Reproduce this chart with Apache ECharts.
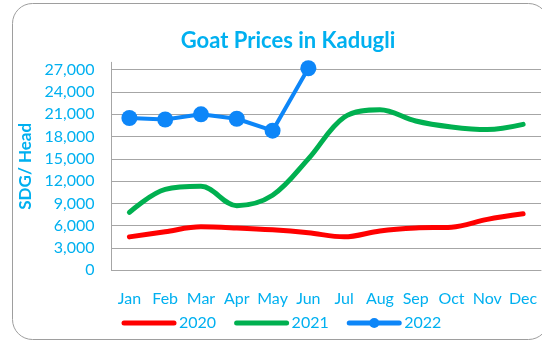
<!DOCTYPE html>
<html>
<head>
<meta charset="utf-8">
<script src="https://cdn.jsdelivr.net/npm/echarts@6/dist/echarts.min.js"></script>
<style>
  html, body { margin: 0; padding: 0; background: #ffffff; }
  #chart { width: 542px; height: 342px; }
</style>
</head>
<body>
<div id="chart"></div>
<script>
// Monthly goat prices (SDG per head) in Kadugli
const months = ['Jan', 'Feb', 'Mar', 'Apr', 'May', 'Jun', 'Jul', 'Aug', 'Sep', 'Oct', 'Nov', 'Dec'];
const prices2020 = [4500, 5200, 5850, 5700, 5450, 5050, 4500, 5300, 5700, 5800, 6850, 7600];
const prices2021 = [7800, 10900, 11300, 8700, 10100, 15000, 20600, 21600, 20100, 19300, 18950, 19650];
const prices2022 = [20500, 20300, 21000, 20400, 18800, 27200];
const yTicks = { min: 0, max: 28000, step: 3000 };

const textBlue = '#00B0F0';
const fontFamily = 'Lato, "Open Sans", sans-serif';
const gridGray = '#A6A6A6';

const chart = echarts.init(document.getElementById('chart'), null, { renderer: 'canvas' });

chart.setOption({
  animation: false,
  backgroundColor: '#ffffff',
  graphic: [{
    type: 'rect',
    z: -10,
    shape: { x: 12.5, y: 3.5, width: 536, height: 336, r: 20 },
    style: { fill: '#ffffff', stroke: '#9E9E9E', lineWidth: 1 }
  }],
  title: {
    text: 'Goat Prices in Kadugli',
    left: 283,
    textAlign: 'center',
    top: 25,
    textStyle: { color: textBlue, fontFamily, fontWeight: 'bold', fontSize: 22 }
  },
  grid: { left: 111.5, right: 1, top: 62.3, bottom: 71.7, containLabel: false },
  legend: {
    top: 310,
    left: 116.5,
    itemWidth: 50,
    itemHeight: 12.5,
    itemGap: 18,
    textStyle: { color: textBlue, fontFamily, fontSize: 16 },
    lineStyle: { width: 5, cap: 'round' },
    data: [
      { name: '2020', itemStyle: { opacity: 0 } },
      { name: '2021', itemStyle: { opacity: 0 } },
      { name: '2022' }
    ]
  },
  xAxis: {
    type: 'category',
    data: months,
    boundaryGap: true,
    axisLine: { lineStyle: { color: gridGray, width: 1 } },
    axisTick: { show: false },
    axisLabel: { color: textBlue, fontFamily, fontSize: 16, margin: 21, interval: 0 }
  },
  yAxis: {
    type: 'value',
    min: yTicks.min,
    max: yTicks.max,
    interval: yTicks.step,
    name: 'SDG/ Head',
    nameLocation: 'middle',
    nameGap: 71,
    nameRotate: 90,
    nameTextStyle: { color: textBlue, fontFamily, fontWeight: 'bold', fontSize: 17 },
    axisLine: { show: true, lineStyle: { color: gridGray, width: 1 } },
    axisTick: { show: false },
    axisLabel: {
      color: textBlue, fontFamily, fontSize: 16, margin: 17, showMaxLabel: false,
      formatter: v => v.toLocaleString('en-US')
    },
    splitLine: { show: true, showMaxLine: false, lineStyle: { color: gridGray, width: 1 } }
  },
  series: [
    {
      name: '2020', type: 'line', data: prices2020, smooth: 0.35, symbol: 'none',
      lineStyle: { color: '#FF0000', width: 5, cap: 'round' },
      itemStyle: { color: '#FF0000' }
    },
    {
      name: '2021', type: 'line', data: prices2021, smooth: 0.35, symbol: 'none',
      lineStyle: { color: '#00B050', width: 5, cap: 'round' },
      itemStyle: { color: '#00B050' }
    },
    {
      name: '2022', type: 'line', data: prices2022, symbol: 'circle', symbolSize: 16,
      lineStyle: { color: '#0D86F8', width: 4 },
      itemStyle: { color: '#0D86F8' },
      clip: false, z: 3
    }
  ]
});
</script>
</body>
</html>
